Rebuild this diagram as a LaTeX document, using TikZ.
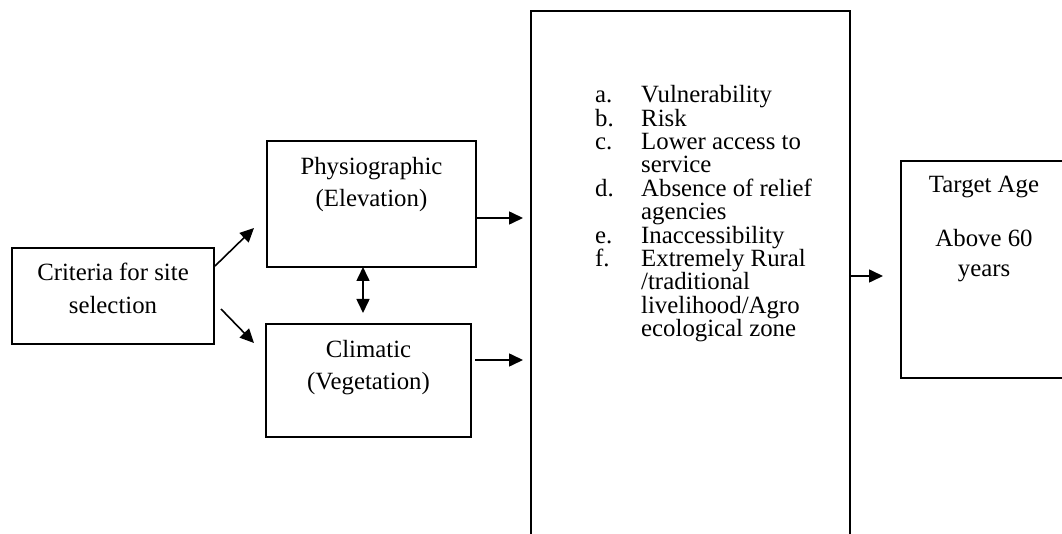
\documentclass[tikz,border=0pt]{standalone}
\usepackage{fontspec}
\setmainfont{Liberation Serif}
\usetikzlibrary{arrows.meta,calc}
\begin{document}
\begin{tikzpicture}[x=1pt,y=-1pt,
  box/.style={draw, line width=1.6pt, inner sep=0pt, outer sep=0pt},
  txt/.style={font=\fontsize{24.8}{32}\selectfont, inner sep=0pt, anchor=base},
  item/.style={txt, anchor=base west},
  arr/.style={line width=1.6pt, -{Triangle[length=14pt,width=13pt]}},
  darr/.style={line width=1.6pt, {Triangle[length=14pt,width=13pt]}-{Triangle[length=14pt,width=13pt]}}]
\clip (0,0) rectangle (1062,534);

% boxes
\node[box, minimum width=202, minimum height=96]  (crit)   at (113,296)     {};
\node[box, minimum width=209, minimum height=126] (physio) at (371.5,204)   {};
\node[box, minimum width=205, minimum height=113] (clim)   at (368.5,380.5) {};
\node[box, minimum width=319, minimum height=578] (big)    at (690.5,300)   {};
\node[box, minimum width=169, minimum height=217] (target) at (985.5,269.5) {};

% box texts
\node[txt] (crit1) at (113,281) {Criteria for site};
\node[txt] (crit2) at (113,313) {selection};
\node[txt] (phy1) at (371.5,175) {Physiographic};
\node[txt] (phy2) at (371.5,207) {(Elevation)};
\node[txt] (cli1) at (368.5,357) {Climatic};
\node[txt] (cli2) at (368.5,389) {(Vegetation)};
\node[txt] (tag1) at (984,193) {Target Age};
\node[txt] (tag2) at (984,247) {Above 60};
\node[txt] (tag3) at (984,277) {years};

% criteria list: labels and wrapped item lines
\def\lx{595}\def\ix{641}\def\ly{102.7}\def\ls{23.4}
\node[item] (laba) at (\lx,\ly+\ls*0) {a.};
\node[item] (labb) at (\lx,\ly+\ls*1) {b.};
\node[item] (labc) at (\lx,\ly+\ls*2) {c.};
\node[item] (labd) at (\lx,\ly+\ls*4) {d.};
\node[item] (labe) at (\lx,\ly+\ls*6) {e.};
\node[item] (labf) at (\lx,\ly+\ls*7) {f.};
\node[item] (itm0)  at (\ix,\ly+\ls*0)  {Vulnerability};
\node[item] (itm1)  at (\ix,\ly+\ls*1)  {Risk};
\node[item] (itm2)  at (\ix,\ly+\ls*2)  {Lower access to};
\node[item] (itm3)  at (\ix,\ly+\ls*3)  {service};
\node[item] (itm4)  at (\ix,\ly+\ls*4)  {Absence of relief};
\node[item] (itm5)  at (\ix,\ly+\ls*5)  {agencies};
\node[item] (itm6)  at (\ix,\ly+\ls*6)  {Inaccessibility};
\node[item] (itm7)  at (\ix,\ly+\ls*7)  {Extremely Rural};
\node[item] (itm8)  at (\ix,\ly+\ls*8)  {/traditional};
\node[item] (itm9)  at (\ix,\ly+\ls*9)  {livelihood/Agro};
\node[item] (itm10) at (\ix,\ly+\ls*10) {ecological zone};

% connectors
\draw[arr] ($(crit.north east)+(1,18)$) -- ($(physio.south west)+(-13,-39)$);
\draw[arr] ($(crit.south east)+(7,-35)$) -- ($(clim.north west)+(-12,19)$);
\draw[darr] ($(physio.south)+(-8.5,0)$) -- ($(clim.north)+(-5.5,-11)$);
\draw[arr] ($(physio.east)+(0,14)$) -- ($(big.west |- physio.east)+(-8,14)$);
\draw[arr] ($(clim.east)+(4,-20.5)$) -- ($(big.west |- clim.east)+(-8,-20.5)$);
\draw[arr] ($(big.east |- target.west)+(0,6.5)$) -- ($(target.west)+(-18,6.5)$);
\end{tikzpicture}
\end{document}
